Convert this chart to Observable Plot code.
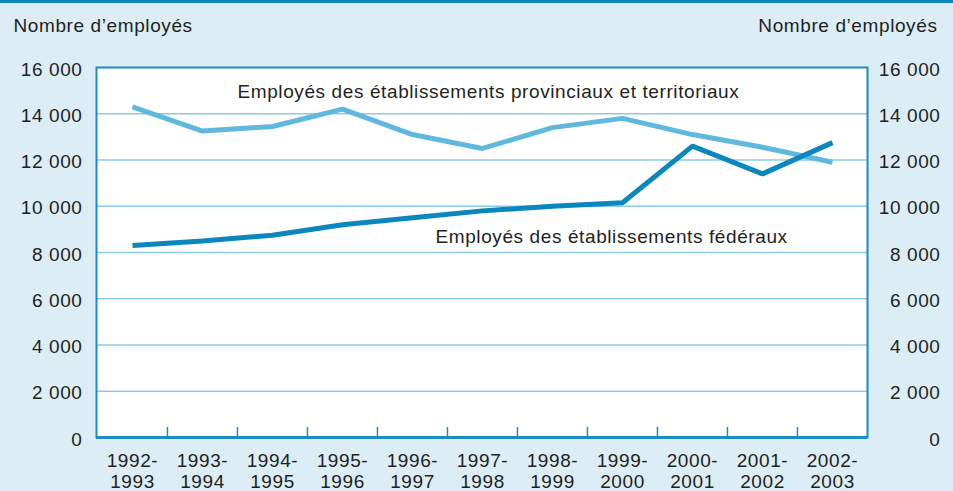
<!DOCTYPE html>
<html>
<head>
<meta charset="utf-8">
<script src="https://cdn.jsdelivr.net/npm/d3@7"></script>
<script src="https://cdn.jsdelivr.net/npm/@observablehq/plot@0.6"></script>
<style>
  html, body { margin: 0; padding: 0; background: #dcedf6; }
  #topbar { height: 3px; background: #0b87bd; }
  #chart svg text { letter-spacing: 0.6px; }
</style>
</head>
<body>
<div id="topbar"></div>
<div id="chart"></div>
<script>
const categories = ["1992-1993", "1993-1994", "1994-1995", "1995-1996", "1996-1997", "1997-1998",
  "1998-1999", "1999-2000", "2000-2001", "2001-2002", "2002-2003"];
const provincial = [14300, 13250, 13450, 14200, 13100, 12500, 13400, 13800, 13100, 12550, 11900];
const federal = [8300, 8500, 8750, 9200, 9500, 9800, 10000, 10150, 12600, 11400, 12750];
const yTicks = [0, 2000, 4000, 6000, 8000, 10000, 12000, 14000, 16000];
const seriesNames = ["Employés des établissements provinciaux et territoriaux", "Employés des établissements fédéraux"];
const axisTitle = "Nombre d’employés";

const W = 953, H = 488;
const mL = 96, mR = 86, mT = 64, mB = 54;
const step = (W - mL - mR) / categories.length;

const provData = categories.map((c, i) => ({cat: c, v: provincial[i]}));
const fedData = categories.map((c, i) => ({cat: c, v: federal[i]}));
const fmt = d => d === 0 ? "0" : `${Math.floor(d / 1000)} ${String(d % 1000).padStart(3, "0")}`;

const FRAME = "#1a8cc0";
const TEXT = "#231f20";
const FS = 19;

const chart = Plot.plot({
  width: W,
  height: H,
  marginLeft: mL,
  marginRight: mR,
  marginTop: mT,
  marginBottom: mB,
  style: {
    background: "#dcedf6",
    fontFamily: "'Liberation Sans', Arial, sans-serif",
    fontSize: FS + "px",
    color: TEXT
  },
  x: {type: "point", domain: categories, padding: 0.5, axis: null},
  y: {domain: [0, 16000], axis: null},
  marks: [
    Plot.frame({fill: "white"}),
    Plot.ruleY(yTicks.filter(d => d > 0 && d < 16000), {stroke: "#8ccbe6", strokeWidth: 1.5}),
    Plot.ruleX(categories.slice(1), {x: d => d, dx: -step / 2, insetTop: H - mT - mB - 10, stroke: FRAME, strokeWidth: 1.5}),
    Plot.frame({stroke: FRAME, strokeWidth: 2}),
    Plot.ruleY([0], {stroke: FRAME, strokeWidth: 3}),
    Plot.axisY(yTicks, {anchor: "left", label: null, tickSize: 0, tickPadding: 14, tickFormat: fmt, dy: 2, fill: TEXT, fontSize: FS}),
    Plot.axisY(yTicks, {anchor: "right", label: null, tickSize: 0, tickPadding: 73, textAnchor: "end", tickFormat: fmt, dy: 2, fill: TEXT, fontSize: FS}),
    Plot.axisX(categories, {anchor: "bottom", label: null, tickSize: 0, tickPadding: 14, lineHeight: 1.12,
      tickFormat: d => d.replace("-", "-\n"), fill: TEXT, fontSize: FS}),
    Plot.line(provData, {x: "cat", y: "v", stroke: "#5fb8dd", strokeWidth: 5, strokeLinejoin: "miter", strokeLinecap: "butt"}),
    Plot.line(fedData, {x: "cat", y: "v", stroke: "#0a87bc", strokeWidth: 5, strokeLinejoin: "miter", strokeLinecap: "butt"}),
    Plot.text([seriesNames[0]], {x: () => categories[2], y: () => 14700, dx: -35, text: d => d,
      textAnchor: "start", lineAnchor: "bottom", fill: TEXT, fontSize: FS}),
    Plot.text([seriesNames[1]], {x: () => categories[5], y: () => 8430, dx: -47, text: d => d,
      textAnchor: "start", lineAnchor: "bottom", fill: TEXT, fontSize: FS}),
    Plot.text([axisTitle], {frameAnchor: "top-left", dx: -83, dy: -49, text: d => d,
      textAnchor: "start", lineAnchor: "top", fill: TEXT, fontSize: FS}),
    Plot.text([axisTitle], {frameAnchor: "top-right", dx: 70, dy: -49, text: d => d,
      textAnchor: "end", lineAnchor: "top", fill: TEXT, fontSize: FS})
  ]
});
document.getElementById("chart").appendChild(chart);
</script>
</body>
</html>
